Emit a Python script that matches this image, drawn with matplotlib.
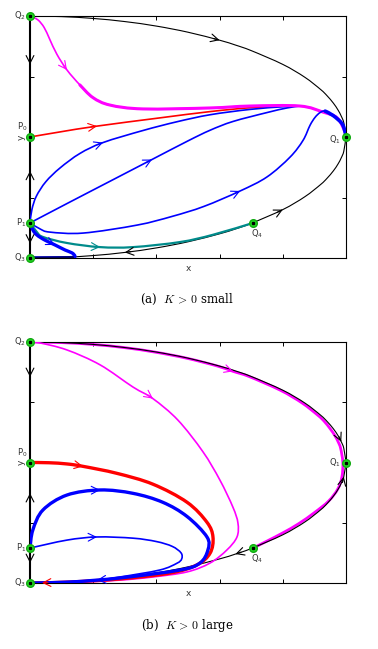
import numpy as np
import matplotlib
matplotlib.use('Agg')
import matplotlib.pyplot as plt
from matplotlib.path import Path
from matplotlib.patches import PathPatch

# 相圖資料 (座標由參考圖讀取)
# 邊界橢圓 (黑線)
ELL_X = [0, 0.1, 0.2, 0.3, 0.4, 0.5, 0.6, 0.65, 0.7, 0.8, 0.87, 0.92, 0.94, 0.96, 0.975, 0.985, 0.993, 1.0]
ELL_TOP = [1.0, 0.9975, 0.9899, 0.977, 0.9583, 0.933, 0.9, 0.88, 0.857, 0.8, 0.7466, 0.696, 0.6706, 0.64,
           0.611, 0.586, 0.559, 0.5]
ELL_BOT = [0.0, 0.0025, 0.0101, 0.023, 0.0417, 0.067, 0.1, 0.12, 0.143, 0.2, 0.2534, 0.304, 0.3294, 0.36,
           0.389, 0.414, 0.441, 0.5]

# 平衡點
POINT_NAMES = ['Q$_2$', 'P$_0$', 'P$_1$', 'Q$_3$', 'Q$_1$', 'Q$_4$']
POINT_X = [0, 0, 0, 0, 1.0, 0.706]
POINT_Y = [1.0, 0.5, 0.145, 0.0, 0.5, 0.145]

# ---- (a) K > 0 small ----
A_MAG_X = [0, 0.025, 0.045, 0.062, 0.085, 0.117, 0.158, 0.199, 0.253, 0.358, 0.57, 0.696, 0.854, 0.927, 0.972,
           0.997, 1.0]
A_MAG_Y = [1.0, 0.984, 0.952, 0.905, 0.842, 0.777, 0.715, 0.663, 0.632, 0.616, 0.62, 0.628, 0.628, 0.603, 0.579,
           0.521, 0.5]

A_RED_X = [0, 0.095, 0.212, 0.411, 0.57, 0.696, 0.807]
A_RED_Y = [0.5, 0.521, 0.545, 0.579, 0.605, 0.621, 0.628]

A_BLUE1_X = [0, 0.006, 0.02, 0.05, 0.095, 0.158, 0.231, 0.358, 0.465, 0.57, 0.696, 0.8, 0.854]
A_BLUE1_Y = [0.145, 0.2, 0.255, 0.315, 0.372, 0.432, 0.477, 0.527, 0.563, 0.592, 0.614, 0.625, 0.628]

A_BLUE2_X = [0, 0.12, 0.253, 0.386, 0.5, 0.57, 0.642, 0.75, 0.813, 0.854]
A_BLUE2_Y = [0.145, 0.227, 0.317, 0.407, 0.484, 0.528, 0.564, 0.601, 0.62, 0.628]

A_BLUE3_X = [0, 0.032, 0.063, 0.168, 0.339, 0.45, 0.55, 0.665, 0.75, 0.823, 0.864, 0.886, 0.902, 0.918,
             0.934, 0.959, 0.987, 0.997, 1.0]
A_BLUE3_Y = [0.145, 0.12, 0.107, 0.103, 0.136, 0.172, 0.213, 0.277, 0.335, 0.417, 0.486, 0.548, 0.581, 0.601,
             0.607, 0.589, 0.556, 0.521, 0.5]

A_TEAL_X = [0, 0.022, 0.041, 0.117, 0.222, 0.326, 0.475, 0.579, 0.706]
A_TEAL_Y = [0.145, 0.107, 0.087, 0.062, 0.045, 0.045, 0.066, 0.096, 0.145]

A_BLUE4_X = [0, 0.009, 0.022, 0.047, 0.079, 0.111, 0.133, 0.142, 0.135, 0.09, 0]
A_BLUE4_Y = [0.145, 0.116, 0.095, 0.074, 0.054, 0.033, 0.021, 0.008, 0.002, 0.001, 0]

A_LEFT_ARROWS = [(0.80, -1), (0.36, 1), (0.06, -1)]

# ---- (b) K > 0 large ----
B_MAG1_X = [0, 0.099, 0.198, 0.297, 0.396, 0.495, 0.594, 0.643, 0.693, 0.792, 0.861, 0.911, 0.931, 0.95,
            0.965, 0.975, 0.983, 0.99, 0.987, 0.974, 0.945, 0.9, 0.85, 0.8, 0.75, 0.706]
B_MAG1_Y = [1.0, 0.9975, 0.99, 0.977, 0.958, 0.933, 0.9, 0.878, 0.857, 0.8, 0.747, 0.696, 0.671, 0.64,
            0.611, 0.586, 0.559, 0.5, 0.44, 0.39, 0.34, 0.292, 0.246, 0.208, 0.174, 0.145]

B_MAG2_X = [0, 0.032, 0.117, 0.222, 0.326, 0.389, 0.468, 0.547, 0.601, 0.642, 0.658, 0.655, 0.623, 0.57,
            0.497, 0.389, 0.285, 0.158, 0]
B_MAG2_Y = [1.0, 0.996, 0.967, 0.905, 0.813, 0.765, 0.676, 0.545, 0.427, 0.315, 0.249, 0.191, 0.137, 0.083,
            0.046, 0.025, 0.012, 0.004, 0]

B_RED_X = [0, 0.06, 0.117, 0.168, 0.275, 0.389, 0.497, 0.56, 0.579, 0.57, 0.528, 0.443, 0.285, 0.127, 0.038, 0]
B_RED_Y = [0.5, 0.499, 0.494, 0.484, 0.455, 0.41, 0.335, 0.252, 0.191, 0.124, 0.075, 0.041, 0.017, 0.004,
           0.001, 0]

B_BLUE1_X = [0, 0.009, 0.041, 0.117, 0.222, 0.326, 0.42, 0.497, 0.56, 0.563, 0.538, 0.475, 0.285, 0.127, 0]
B_BLUE1_Y = [0.145, 0.22, 0.303, 0.365, 0.386, 0.372, 0.335, 0.276, 0.191, 0.137, 0.083, 0.054, 0.021, 0.004, 0]

B_BLUE2_X = [0, 0.117, 0.212, 0.326, 0.4, 0.45, 0.478, 0.48, 0.465, 0.411, 0.285, 0.212, 0.095, 0]
B_BLUE2_Y = [0.145, 0.178, 0.191, 0.186, 0.172, 0.152, 0.125, 0.1, 0.082, 0.054, 0.025, 0.012, 0.004, 0]

B_LEFT_ARROWS = [(0.855, -1), (0.373, 1), (0.083, -1)]

BLUE = '#0000ff'
RED = '#ff0000'
MAGENTA = '#ff00ff'
TEAL = '#008b8b'
LABEL_GRAY = '#333333'

plt.rcParams['mathtext.fontset'] = 'cm'


def curve(ax, xs, ys, color, lw, zorder):
    """以平滑的貝茲曲線通過所讀取的點 (Catmull-Rom 控制點)"""
    p = np.column_stack([xs, ys]).astype(float)
    n = len(p)
    verts = [p[0]]
    codes = [Path.MOVETO]
    for i in range(n - 1):
        p0 = p[i - 1] if i > 0 else p[i]
        p3 = p[i + 2] if i + 2 < n else p[i + 1]
        verts += [p[i] + (p[i + 1] - p0) / 6, p[i + 1] - (p3 - p[i]) / 6, p[i + 1]]
        codes += [Path.CURVE4] * 3
    ax.add_patch(PathPatch(Path(verts, codes), fill=False, edgecolor=color, lw=lw, zorder=zorder,
                           capstyle='round', joinstyle='round'))


def put_arrow(ax, xs, ys, i, color, reverse=False, lw=0.8):
    """在曲線第 i 點畫開口箭頭，方向沿曲線"""
    tr = ax.transData.transform
    i0 = max(i - 1, 0)
    i1 = min(i + 1, len(xs) - 1)
    d = tr((xs[i1], ys[i1])) - tr((xs[i0], ys[i0]))
    if reverse:
        d = -d
    d = d / np.hypot(d[0], d[1])
    ax.annotate('', xy=(xs[i], ys[i]), xytext=(-d[0] * 6, -d[1] * 6), textcoords='offset pixels',
                arrowprops=dict(arrowstyle='->,head_length=0.55,head_width=0.28', color=color, lw=lw,
                                shrinkA=0, shrinkB=0), zorder=8)


def setup_axes(ax):
    ax.set_xlim(0, 1)
    ax.set_ylim(0, 1)
    ax.set_xticks([0.2, 0.4, 0.6, 0.8])
    ax.set_yticks([0.25, 0.5, 0.75])
    ax.tick_params(direction='in', length=3, width=0.7, top=True, right=True,
                   labelbottom=False, labelleft=False)
    for side in ['top', 'right', 'bottom']:
        ax.spines[side].set_linewidth(0.8)
    ax.spines['left'].set_linewidth(1.5)
    ax.set_xlabel('x', fontsize=6.5, color=LABEL_GRAY, labelpad=4)
    ax.set_ylabel('y', fontsize=6.5, color=LABEL_GRAY, labelpad=3)


def draw_points(ax, q1_label_dy):
    ax.plot(POINT_X, POINT_Y, 'o', ms=5.5, color='#22dd22', mec='#11aa11', clip_on=False, zorder=10)
    ax.plot(POINT_X, POINT_Y, 's', ms=1.8, color='black', clip_on=False, zorder=11)
    kw = dict(fontsize=6, color=LABEL_GRAY, math_fontfamily='dejavusans', zorder=12)
    ax.text(-0.012, POINT_Y[0], POINT_NAMES[0], ha='right', va='center', **kw)
    ax.text(-0.008, POINT_Y[1] + 0.015, POINT_NAMES[1], ha='right', va='bottom', **kw)
    ax.text(-0.012, POINT_Y[2], POINT_NAMES[2], ha='right', va='center', **kw)
    ax.text(-0.012, POINT_Y[3], POINT_NAMES[3], ha='right', va='center', **kw)
    ax.text(0.985, POINT_Y[4] + q1_label_dy, POINT_NAMES[4], ha='right', va='center', **kw)
    ax.text(POINT_X[5] + 0.012, POINT_Y[5] - 0.018, POINT_NAMES[5], ha='center', va='top', **kw)


def left_arrows(ax, arrows):
    for y, sgn in arrows:
        ax.annotate('', xy=(0, y), xytext=(0, -sgn * 6), textcoords='offset pixels',
                    arrowprops=dict(arrowstyle='->,head_length=0.55,head_width=0.28', color='black',
                                    lw=0.8, shrinkA=0, shrinkB=0), zorder=8)


fig = plt.figure(figsize=(3.78, 6.49), dpi=100)
ax_a = fig.add_axes([30 / 378, 1 - 258 / 649, 316 / 378, 242 / 649])
ax_b = fig.add_axes([30 / 378, 1 - 583 / 649, 316 / 378, 241 / 649])

# ---------------- (a) ----------------
ax = ax_a
setup_axes(ax)
curve(ax, ELL_X, ELL_TOP, 'black', 0.8, 2)
curve(ax, ELL_X, ELL_BOT, 'black', 0.8, 2)
curve(ax, A_RED_X, A_RED_Y, RED, 1.2, 3)
curve(ax, A_BLUE1_X, A_BLUE1_Y, BLUE, 1.2, 3)
curve(ax, A_BLUE2_X, A_BLUE2_Y, BLUE, 1.2, 3)
curve(ax, A_MAG_X, A_MAG_Y, MAGENTA, 1.2, 4)
curve(ax, A_MAG_X[6:], A_MAG_Y[6:], MAGENTA, 2.2, 4)
curve(ax, A_BLUE3_X, A_BLUE3_Y, BLUE, 1.2, 5)
curve(ax, A_BLUE3_X[14:], A_BLUE3_Y[14:], BLUE, 2.6, 5)
curve(ax, A_TEAL_X, A_TEAL_Y, TEAL, 1.6, 5)
curve(ax, A_BLUE4_X, A_BLUE4_Y, BLUE, 2.4, 5)
curve(ax, A_BLUE4_X[-3:], A_BLUE4_Y[-3:], '#000060', 2.0, 6)
put_arrow(ax, A_MAG_X, A_MAG_Y, 5, MAGENTA)
put_arrow(ax, A_RED_X, A_RED_Y, 2, RED)
put_arrow(ax, A_BLUE1_X, A_BLUE1_Y, 6, BLUE)
put_arrow(ax, A_BLUE2_X, A_BLUE2_Y, 3, BLUE)
put_arrow(ax, A_BLUE3_X, A_BLUE3_Y, 7, BLUE)
put_arrow(ax, A_TEAL_X, A_TEAL_Y, 4, TEAL)
put_arrow(ax, A_BLUE4_X, A_BLUE4_Y, 4, BLUE)
put_arrow(ax, ELL_X, ELL_TOP, 6, 'black')
put_arrow(ax, ELL_X, ELL_BOT, 9, 'black')
put_arrow(ax, ELL_X, ELL_BOT, 3, 'black', reverse=True)
left_arrows(ax, A_LEFT_ARROWS)
draw_points(ax, -0.01)

# ---------------- (b) ----------------
ax = ax_b
setup_axes(ax)
curve(ax, B_MAG1_X, B_MAG1_Y, MAGENTA, 2.0, 2)
curve(ax, ELL_X, ELL_TOP, 'black', 0.8, 3)
curve(ax, ELL_X, ELL_BOT, 'black', 0.8, 3)
curve(ax, B_MAG2_X, B_MAG2_Y, MAGENTA, 1.2, 4)
curve(ax, B_RED_X, B_RED_Y, RED, 2.4, 4)
curve(ax, B_BLUE1_X, B_BLUE1_Y, BLUE, 2.4, 5)
curve(ax, B_BLUE2_X, B_BLUE2_Y, BLUE, 1.2, 5)
put_arrow(ax, B_MAG2_X, B_MAG2_Y, 5, MAGENTA)
put_arrow(ax, B_MAG1_X, B_MAG1_Y, 7, MAGENTA)
put_arrow(ax, B_RED_X, B_RED_Y, 3, RED)
put_arrow(ax, B_RED_X, B_RED_Y, 14, RED)
put_arrow(ax, B_BLUE1_X, B_BLUE1_Y, 4, BLUE)
put_arrow(ax, B_BLUE2_X, B_BLUE2_Y, 2, BLUE)
put_arrow(ax, B_BLUE2_X, B_BLUE2_Y, 11, BLUE)
put_arrow(ax, ELL_X, ELL_TOP, 15, 'black')
put_arrow(ax, ELL_X, ELL_BOT, 16, 'black')
put_arrow(ax, ELL_X, ELL_BOT, 7, 'black', reverse=True)
left_arrows(ax, B_LEFT_ARROWS)
draw_points(ax, 0.0)

# 子圖標題
cap_kw = dict(ha='center', va='center', fontsize=8.5, family='DejaVu Serif', math_fontfamily='cm')
fig.text(187 / 378, 1 - 299 / 649, r'(a)  $K\,>\,0$ small', **cap_kw)
fig.text(187 / 378, 1 - 626 / 649, r'(b)  $K\,>\,0$ large', **cap_kw)

fig.savefig('out.png', dpi=100)
